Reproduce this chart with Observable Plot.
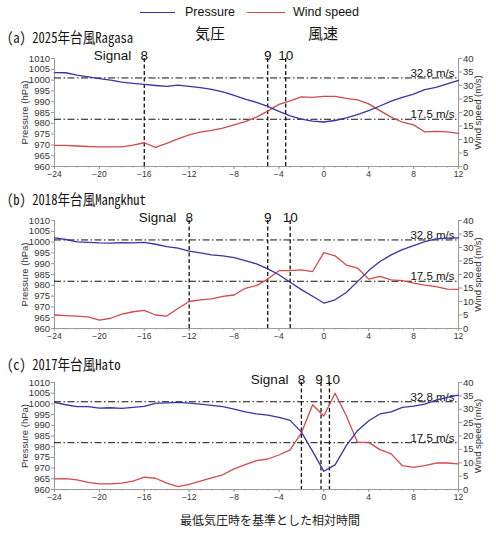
<!DOCTYPE html>
<html><head><meta charset="utf-8">
<script src="https://cdn.jsdelivr.net/npm/d3@7"></script>
<script src="https://cdn.jsdelivr.net/npm/@observablehq/plot@0.6"></script>
<style>
body{margin:0;background:#fff}
#root{position:relative;width:496px;height:534px;overflow:hidden;font-family:Arial,"Liberation Sans",sans-serif;background:#fff}
.abs{position:absolute;white-space:nowrap;line-height:1}
.title{font-family:"Noto Sans Mono CJK JP","DejaVu Sans Mono","Noto Sans CJK JP",monospace;font-size:14.5px;color:#111;transform:scaleX(0.87);transform-origin:0 50%}
.cjk{font-family:"Noto Sans CJK JP",sans-serif;color:#111}
.sw{position:absolute;height:0;border-top:1.5px solid}
</style>
</head><body><div id="root"></div>
<script>
// ---- data ----
const hours = [-24,-23,-22,-21,-20,-19,-18,-17,-16,-15,-14,-13,-12,-11,-10,-9,-8,-7,-6,-5,-4,-3,-2,-1,0,1,2,3,4,5,6,7,8,9,10,11,12];

const pressureA = [1003.5,1003.4,1002.3,1001.5,1000.7,1000.0,999.1,998.5,998.0,997.5,997.1,997.7,997.1,996.5,995.7,994.5,992.9,991.2,989.7,987.8,985.5,983.4,981.9,981.0,980.6,981.3,982.5,984.0,985.9,988.0,990.3,992.0,993.5,995.6,996.6,998.2,999.9];
const windA = [7.8,7.8,7.6,7.4,7.3,7.3,7.3,7.9,8.8,7.1,8.6,10.2,11.7,12.7,13.4,14.2,15.4,16.6,18.3,20.5,23.0,24.3,25.8,25.6,26.0,26.0,25.2,24.7,23.2,20.7,18.3,16.4,15.4,12.8,13.0,12.8,12.3];

const pressureB = [1002.0,1001.2,1000.1,999.9,999.6,999.5,999.8,999.6,999.9,999.0,997.9,997.2,995.8,995.0,994.1,993.6,992.8,991.4,989.9,987.6,984.9,981.4,978.0,974.9,971.8,973.3,976.7,981.7,986.8,991.0,994.1,996.5,998.4,1000.2,1001.5,1001.8,1002.0];
const windB = [5.0,4.8,4.6,4.3,3.1,3.8,5.3,6.2,6.7,5.0,4.6,7.4,10.0,10.6,11.0,11.9,12.4,14.9,15.9,18.3,21.4,21.4,21.7,21.1,28.1,26.9,23.5,22.4,18.3,19.3,18.0,17.7,16.8,16.1,15.5,14.6,14.5];

const pressureC = [1000.7,999.6,998.7,998.7,998.0,998.2,997.9,998.4,998.8,1000.2,1000.5,1000.7,1000.4,999.9,999.3,998.7,997.6,996.3,995.3,994.8,993.7,992.3,986.8,977.8,968.5,971.5,980.5,987.5,992.1,995.3,996.3,998.4,999.0,999.9,1001.8,1003.0,1004.1];
const windC = [4.0,4.1,3.6,2.7,2.1,2.1,2.4,3.1,4.6,4.2,2.4,1.1,1.9,3.1,4.3,5.5,7.7,9.3,10.8,11.4,12.9,14.8,21.2,31.7,27.5,36.0,27.6,17.6,17.6,14.9,13.3,8.9,8.3,8.9,9.9,9.9,9.6];

const signalLabels = ["8","9","10"];
const signalA = [-16,-5,-3.4];
const signalB = [-12,-5,-3];
const signalC = [-2,-0.25,0.5];

const thresholds = [32.8, 17.5];
const thresholdLabels = ["32.8 m/s","17.5 m/s"];

const xTicks = [-24,-20,-16,-12,-8,-4,0,4,8,12];
const pTicks = [960,965,970,975,980,985,990,995,1000,1005,1010];
const wTicks = [0,5,10,15,20,25,30,35,40];

const titles = ["(a) 2025年台風Ragasa","(b) 2018年台風Mangkhut","(c) 2017年台風Hato"];
const legendLabels = ["Pressure","Wind speed"];
const legendCJK = ["気圧","風速"];
const xTitle = "最低気圧時を基準とした相対時間";

// ---- helpers ----
const BLUE = "#3535a5", RED = "#d24a4a", AXIS = "#9a9a9a";
const P0 = 960, P1 = 1010, W1 = 40;
const w2p = w => P0 + w * (P1 - P0) / W1;
const p2w = p => (p - P0) * W1 / (P1 - P0);

function panel(press, wind, sig, plotH, labelDx) {
  const rows = hours.map((t, i) => ({t, p: press[i], w: w2p(wind[i])}));
  const sigRows = sig.map((t, i) => ({t, label: signalLabels[i]}));
  const thRows = thresholds.map((w, i) => ({p: w2p(w), label: thresholdLabels[i]}));
  const sigText = sigRows.map((d, i) => Plot.text([d], {x: "t", text: "label", frameAnchor: "top", lineAnchor: "bottom", dx: labelDx[i], dy: 1, fontSize: 13.5, fill: "#111"}));
  return Plot.plot({
    width: 496, height: 10 + plotH + 16,
    marginLeft: 54, marginRight: 38, marginTop: 10, marginBottom: 16,
    x: {domain: [-24, 12]},
    y: {domain: [P0, P1]},
    style: {fontFamily: "Arial, 'Liberation Sans', sans-serif", fontSize: "8.5px", color: "#333", overflow: "visible", background: "transparent"},
    marks: [
      Plot.ruleX([-24, 12], {stroke: AXIS}),
      Plot.ruleY([P0], {stroke: AXIS}),
      Plot.axisX({ticks: hours, tickSize: 1.5, tickFormat: () => "", label: null, stroke: AXIS}),
      Plot.axisX({ticks: xTicks, tickSize: 3, tickPadding: 1.5, label: null, stroke: AXIS}),
      Plot.axisY({ticks: pTicks, tickFormat: d => String(d), tickSize: 3, tickPadding: 1.5, stroke: AXIS,
        label: "Pressure (hPa)", labelAnchor: "center", labelArrow: "none", labelOffset: 33, fontSize: 9.5}),
      Plot.axisY({anchor: "right", ticks: wTicks.map(w2p), tickFormat: d => String(Math.round(p2w(d))),
        tickSize: 3, tickPadding: 1.5, stroke: AXIS,
        label: "Wind speed (m/s)", labelAnchor: "center", labelArrow: "none", labelOffset: 22, fontSize: 9.5}),
      Plot.ruleY(thRows, {y: "p", stroke: "#111", strokeWidth: 1, strokeDasharray: "7,2.5,1.5,2.5"}),
      Plot.text(thRows, {x: 12, y: "p", text: "label", textAnchor: "end", lineAnchor: "bottom", dx: -4, dy: -1, fontSize: 11.5, fill: "#111"}),
      Plot.ruleX(sigRows, {x: "t", stroke: "#111", strokeWidth: 1.3, strokeDasharray: "4,2.5"}),
      ...sigText,
      Plot.text([sigRows[0]], {x: "t", text: () => "Signal", frameAnchor: "top", lineAnchor: "bottom", textAnchor: "end", dx: -13, dy: 1, fontSize: 13.5, fill: "#111"}),
      Plot.line(rows, {x: "t", y: "w", stroke: RED, strokeWidth: 1.3}),
      Plot.line(rows, {x: "t", y: "p", stroke: BLUE, strokeWidth: 1.3})
    ]
  });
}

const root = document.getElementById("root");
function place(el, left, top) { el.style.position = "absolute"; el.style.left = left + "px"; el.style.top = top + "px"; root.appendChild(el); return el; }
function div(cls, text, left, top, extra) {
  const d = document.createElement("div"); d.className = "abs " + cls; d.textContent = text;
  if (extra) Object.assign(d.style, extra);
  return place(d, left, top);
}

// legend
const sw1 = document.createElement("div"); sw1.className = "sw"; sw1.style.width = "35px"; sw1.style.borderColor = BLUE; place(sw1, 140, 12);
div("", legendLabels[0], 185, 6, {fontSize: "12.5px", color: "#111"});
const sw2 = document.createElement("div"); sw2.className = "sw"; sw2.style.width = "38px"; sw2.style.borderColor = RED; place(sw2, 247, 12);
div("", legendLabels[1], 293, 6, {fontSize: "12.5px", color: "#111"});
div("cjk", legendCJK[0], 195, 25, {fontSize: "15px"});
div("cjk", legendCJK[1], 308, 25, {fontSize: "15px"});

// panels
place(panel(pressureA, windA, signalA, 108, [0, 0, 0]), 0, 48);
place(panel(pressureB, windB, signalB, 108, [0, 0, 0]), 0, 210);
place(panel(pressureC, windC, signalC, 107, [0, -2, 3]), 0, 372);

// titles
div("title", titles[0], 7, 30);
div("title", titles[1], 7, 192);
div("title", titles[2], 7, 357);

// x axis title
div("cjk", xTitle, 180, 514, {fontSize: "12px", color: "#222"});
</script>
</body></html>
